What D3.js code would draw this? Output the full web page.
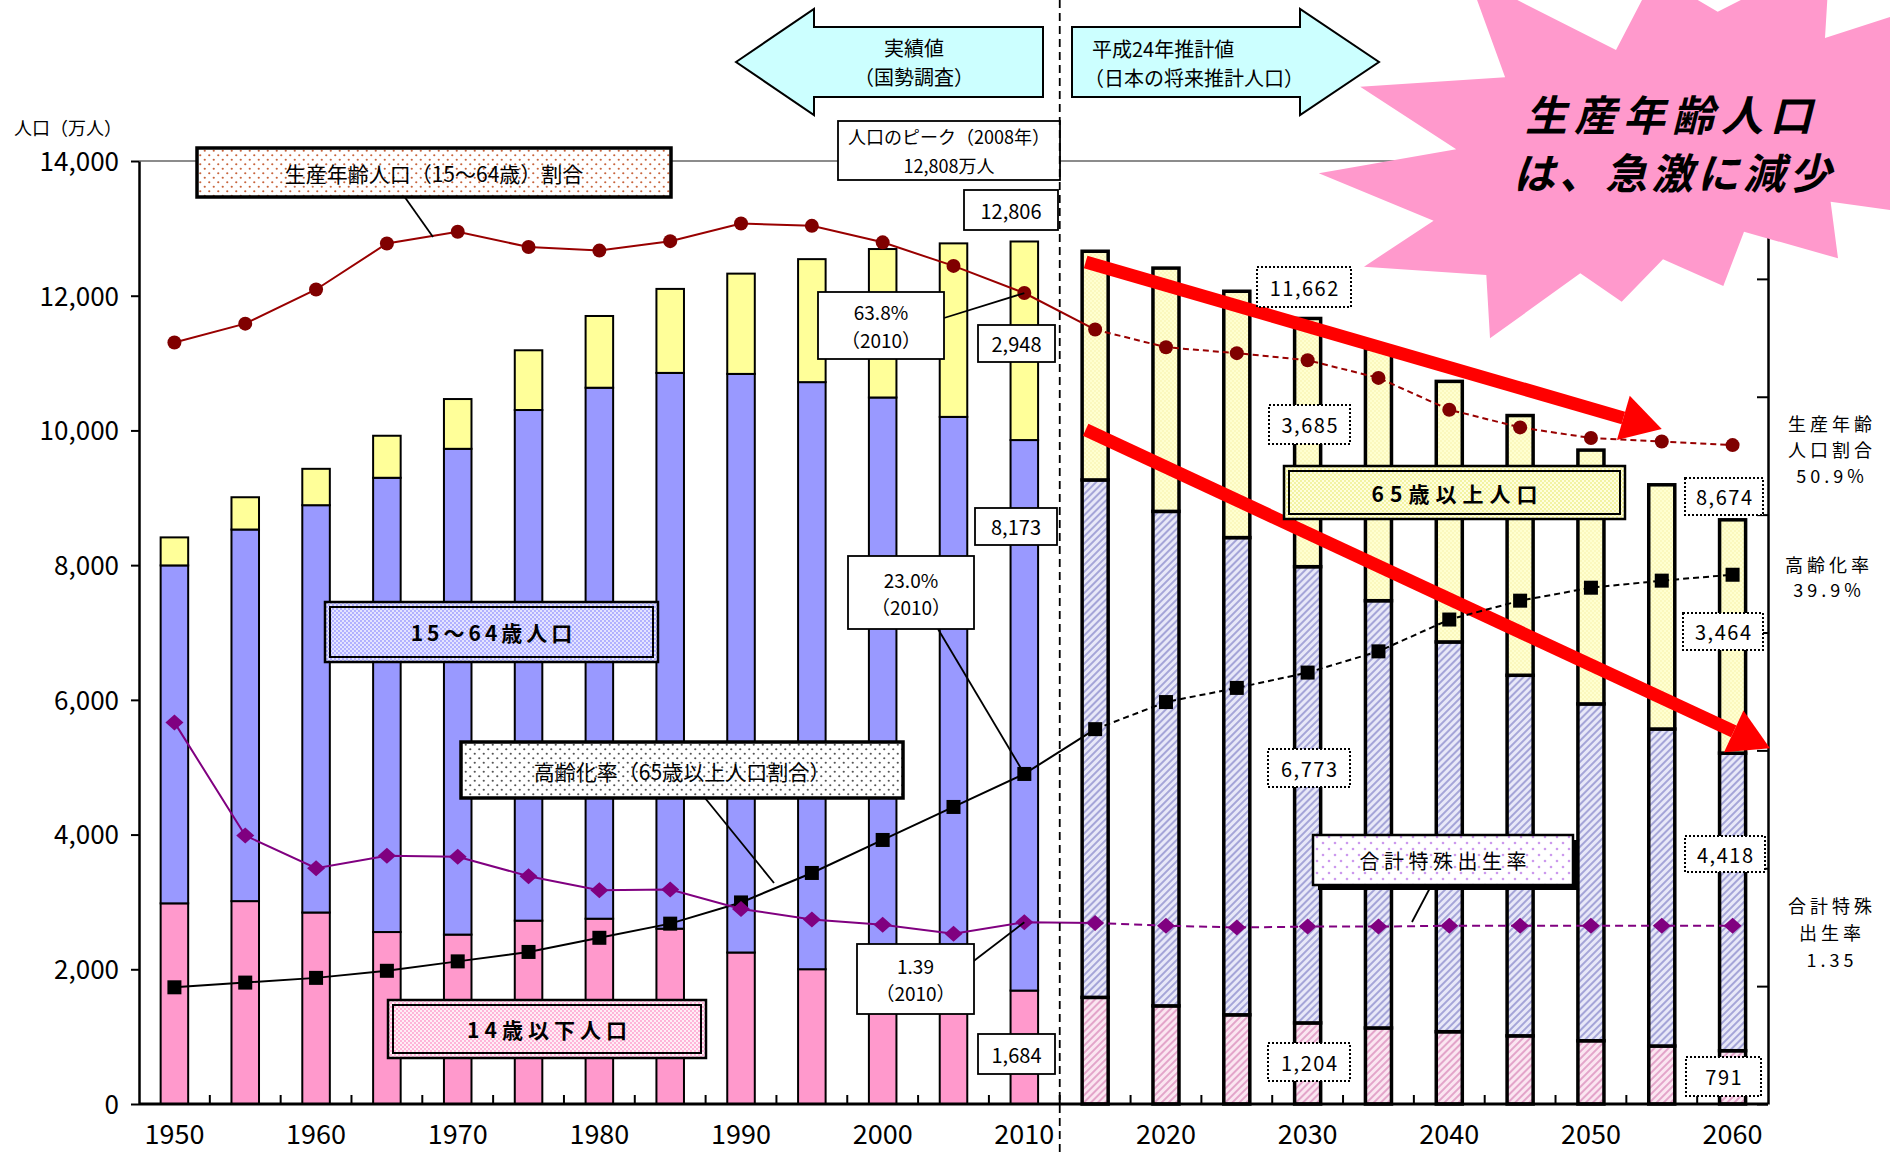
<!DOCTYPE html>
<html><head><meta charset="utf-8">
<script src="https://cdn.jsdelivr.net/npm/d3@7"></script>
<style>
body{margin:0;background:#fff;}
svg{display:block;font-family:"Noto Sans CJK JP","Noto Sans",sans-serif;}
</style></head><body>
<svg id="c" width="1890" height="1154"></svg>
<script>
// ---------------- data ----------------
const years = [1950,1955,1960,1965,1970,1975,1980,1985,1990,1995,2000,2005,2010,2015,2020,2025,2030,2035,2040,2045,2050,2055,2060];
const pop0_14  = [2979,3012,2843,2553,2515,2722,2751,2603,2249,2001,1851,1759,1684,1583,1457,1324,1204,1129,1073,1012,939,861,791];
const pop15_64 = [5017,5517,6047,6744,7212,7581,7883,8251,8590,8716,8638,8442,8173,7682,7341,7085,6773,6343,5787,5353,5001,4706,4418];
const pop65    = [416,479,540,624,739,887,1065,1247,1489,1826,2204,2576,2948,3395,3612,3657,3685,3741,3868,3856,3768,3626,3464];
const workingShare = [59.6,61.2,64.1,68.0,69.0,67.7,67.4,68.2,69.7,69.5,68.1,66.1,63.8,60.7,59.2,58.7,58.1,56.6,53.9,52.4,51.5,51.2,50.9];
const agingRate    = [4.9,5.3,5.7,6.3,7.1,7.9,9.1,10.3,12.1,14.6,17.4,20.2,23.0,26.8,29.1,30.3,31.6,33.4,36.1,37.7,38.8,39.4,39.9];
const fertility    = [3.65,2.37,2.00,2.14,2.13,1.91,1.75,1.76,1.54,1.42,1.36,1.26,1.39,1.38,1.35,1.33,1.34,1.34,1.35,1.35,1.35,1.35,1.35];
const yTickValues = [0,2000,4000,6000,8000,10000,12000,14000];
const xLabelYears = [1950,1960,1970,1980,1990,2000,2010,2020,2030,2040,2050,2060];
const rightTickValues = [-5,5,15,25,35,45,55,65,75];
const lastCensusYear = 2010;
const solidUntil = 2015;

// ---------------- layout ----------------
const svg = d3.select("#c");
const L = 139, R = 1768, T = 161, B = 1104;

const x = d3.scaleBand().domain(years).range([L, R]).paddingInner(0.59).paddingOuter(0.295);
const y = d3.scaleLinear().domain([0, 14000]).range([B, T]);
const pct = d3.scaleLinear().domain([-5, 75]).range([B, T]);
const tfrS = d3.scaleLinear().domain([-2/3, 10]).range([B, T]);
const cx = d => x(d) + x.bandwidth() / 2;

// ---------------- patterns ----------------
const defs = svg.append("defs");
function hatch(id, bg, fg) {
  const p = defs.append("pattern").attr("id", id).attr("patternUnits", "userSpaceOnUse")
    .attr("width", 5).attr("height", 5).attr("patternTransform", "rotate(45)");
  p.append("rect").attr("width", 5).attr("height", 5).attr("fill", bg);
  p.append("rect").attr("width", 2).attr("height", 5).attr("fill", fg);
}
function dots(id, bg, fg, s, r, stagger) {
  const p = defs.append("pattern").attr("id", id).attr("patternUnits", "userSpaceOnUse")
    .attr("width", s).attr("height", s);
  p.append("rect").attr("width", s).attr("height", s).attr("fill", bg);
  p.append("circle").attr("cx", s / 4).attr("cy", s / 4).attr("r", r).attr("fill", fg);
  if (stagger) p.append("circle").attr("cx", 3 * s / 4).attr("cy", 3 * s / 4).attr("r", r).attr("fill", fg);
}
hatch("hPink", "#fbe6f1", "#e3a5ca");
hatch("hBlue", "#e8e8f8", "#a5a5d8");
dots("dYelF", "#ffffd0", "#f6f0a8", 4, 0.8, true);
dots("dBrown", "#ffffff", "#c8643c", 9, 1.1, true);
dots("dBlack", "#ffffff", "#555555", 9, 1.1, true);
dots("dPurple", "#ffffff", "#cc99ee", 12, 1.3, true);
dots("dLav", "#e4e4ff", "#9999ff", 4, 0.9, true);
dots("dYel", "#ffffdd", "#eeee88", 4, 0.9, true);
dots("dPink", "#ffeef6", "#ff99cc", 4, 0.9, true);

// ---------------- axes ----------------
svg.append("line").attr("x1", L).attr("x2", R).attr("y1", y(14000)).attr("y2", y(14000))
  .attr("stroke", "#8c8c8c").attr("stroke-width", 2);

const gL = svg.append("g").attr("transform", `translate(${L},0)`)
  .call(d3.axisLeft(y).tickValues(yTickValues).tickSize(8).tickSizeOuter(0).tickFormat(d3.format(",")));
gL.select(".domain").attr("stroke-width", 2.5);
gL.selectAll(".tick line").attr("stroke-width", 2);
gL.selectAll(".tick text").attr("font-size", 26).attr("x", -20).attr("fill", "#000")
  .attr("font-family", "'Noto Sans CJK JP',sans-serif").attr("dy", "0.36em");

const gR = svg.append("g").attr("transform", `translate(${R},0)`)
  .call(d3.axisLeft(pct).tickValues(rightTickValues).tickSize(11).tickSizeOuter(0).tickFormat(""));
gR.select(".domain").attr("stroke-width", 2.5);
gR.selectAll(".tick line").attr("stroke-width", 2);

const gX = svg.append("g").attr("transform", `translate(0,${B})`)
  .call(d3.axisBottom(x).tickValues(xLabelYears).tickSize(0).tickSizeOuter(0).tickPadding(37));
gX.select(".domain").remove();
gX.selectAll(".tick text").attr("font-size", 27).attr("fill", "#000").attr("dy", "0.1em")
  .attr("font-family", "'Noto Sans CJK JP',sans-serif");

// boundary minor ticks
const gapHalf = (x.step() - x.bandwidth()) / 2;
svg.append("g").selectAll("line").data(years.slice(1)).join("line")
  .attr("x1", d => x(d) - gapHalf).attr("x2", d => x(d) - gapHalf)
  .attr("y1", B).attr("y2", B - 9).attr("stroke", "#000").attr("stroke-width", 2);

svg.append("text").attr("x", 14).attr("y", 127).attr("dominant-baseline", "central")
  .attr("font-size", 18).text("人口（万人）");

// ---------------- bars ----------------
const stackRows = years.map((yr, i) => {
  const a = pop0_14[i], b = pop15_64[i], c = pop65[i];
  return [
    { yr, lo: 0, hi: a, k: 0 },
    { yr, lo: a, hi: a + b, k: 1 },
    { yr, lo: a + b, hi: a + b + c, k: 2 }
  ];
}).flat();
const pastFill = ["#ff99cc", "#9999ff", "#ffff99"];
const futFill = ["url(#hPink)", "url(#hBlue)", "url(#dYelF)"];
const bw = x.bandwidth();
svg.append("g").selectAll("rect").data(stackRows).join("rect")
  .attr("x", d => d.yr > lastCensusYear ? x(d.yr) + 1.5 : x(d.yr) + 0.75)
  .attr("width", d => d.yr > lastCensusYear ? bw - 3 : bw - 1.5)
  .attr("y", d => y(d.hi))
  .attr("height", d => y(d.lo) - y(d.hi))
  .attr("fill", d => d.yr > lastCensusYear ? futFill[d.k] : pastFill[d.k])
  .attr("stroke", "#000")
  .attr("stroke-width", d => d.yr > lastCensusYear ? 3.5 : 2);

// bottom axis line
svg.append("line").attr("x1", L).attr("x2", R).attr("y1", B).attr("y2", B).attr("stroke", "#000").attr("stroke-width", 3);

// ---------------- red arrows ----------------
function redArrow(x0, y0, x1, y1) {
  const ang = Math.atan2(y1 - y0, x1 - x0);
  const hl = 40, hw = 23;
  const bx = x1 - hl * Math.cos(ang), by = y1 - hl * Math.sin(ang);
  svg.append("line").attr("x1", x0).attr("y1", y0).attr("x2", bx).attr("y2", by)
    .attr("stroke", "#ff0000").attr("stroke-width", 13);
  const px = -Math.sin(ang), py = Math.cos(ang);
  svg.append("polygon").attr("points", [[x1, y1], [bx + px * hw, by + py * hw], [bx - px * hw, by - py * hw]].map(p => p.join(",")).join(" "))
    .attr("fill", "#ff0000");
}
redArrow(x(2015) + 5, y(12500), cx(2055), y(10020));
redArrow(x(2015) + 5, y(10010), R + 2, y(5280));

// ---------------- lines ----------------
function series(vals, scale, color, dash, marker) {
  const pts = years.map((yr, i) => ({ yr, px: cx(yr), py: scale(vals[i]) }));
  const line = d3.line().x(d => d.px).y(d => d.py);
  svg.append("path").attr("d", line(pts.filter(d => d.yr <= solidUntil)))
    .attr("fill", "none").attr("stroke", color).attr("stroke-width", 2);
  svg.append("path").attr("d", line(pts.filter(d => d.yr >= solidUntil)))
    .attr("fill", "none").attr("stroke", color).attr("stroke-width", 2).attr("stroke-dasharray", dash);
  const g = svg.append("g");
  pts.forEach(d => marker(g, d.px, d.py));
}
series(workingShare, pct, "#990000", "6,4", (g, px, py) =>
  g.append("circle").attr("cx", px).attr("cy", py).attr("r", 7).attr("fill", "#800000"));
series(agingRate, pct, "#000000", "6,4", (g, px, py) =>
  g.append("rect").attr("x", px - 7).attr("y", py - 7).attr("width", 14).attr("height", 14).attr("fill", "#000"));
series(fertility, tfrS, "#800080", "8,5", (g, px, py) =>
  g.append("path").attr("d", `M${px},${py - 8}L${px + 9},${py}L${px},${py + 8}L${px - 9},${py}Z`).attr("fill", "#800080"));

// ---------------- annotations ----------------
const ann = svg.append("g");
function lines(g, cxp, cyp, arr, o) {
  const lh = o.lh || o.size * 1.35;
  const y0 = cyp - (arr.length - 1) * lh / 2;
  arr.forEach((t, i) => g.append("text").attr("x", cxp + (o.ls || 0) / 2).attr("y", y0 + i * lh)
    .attr("text-anchor", o.anchor || "middle").attr("dominant-baseline", "central")
    .attr("font-size", o.size).attr("font-weight", o.weight || "normal")
    .attr("font-style", o.style || "normal")
    .attr("letter-spacing", o.ls || 0).attr("fill", o.fill || "#000").text(t));
}
function callout(x0, y0, x1, y1, arr, o) {
  ann.append("rect").attr("x", x0).attr("y", y0).attr("width", x1 - x0).attr("height", y1 - y0)
    .attr("fill", "#fff").attr("stroke", "#000").attr("stroke-width", o.sw || 1.8)
    .attr("stroke-dasharray", o.dash || null);
  lines(ann, (x0 + x1) / 2, (y0 + y1) / 2, arr, o);
}
function leader(x0, y0, x1, y1) {
  ann.append("line").attr("x1", x0).attr("y1", y0).attr("x2", x1).attr("y2", y1)
    .attr("stroke", "#000").attr("stroke-width", 1.8);
}
function doubleBox(x0, y0, x1, y1, fill, text, o) {
  ann.append("rect").attr("x", x0).attr("y", y0).attr("width", x1 - x0).attr("height", y1 - y0)
    .attr("fill", fill).attr("stroke", "#000").attr("stroke-width", 2.5);
  ann.append("rect").attr("x", x0 + 5).attr("y", y0 + 5).attr("width", x1 - x0 - 10).attr("height", y1 - y0 - 10)
    .attr("fill", "none").attr("stroke", "#000").attr("stroke-width", 2);
  lines(ann, (x0 + x1) / 2, (y0 + y1) / 2, [text], o);
}

// leaders first (under boxes)
leader(404, 196, 433, 237);
leader(944, 318, cx(2010), pct(63.8));
leader(938, 629, cx(2010), pct(23.0));
leader(705, 798, 774, 883);
leader(958, 973, cx(2010), tfrS(1.39));
leader(1431, 886, 1412, 922);

// legend boxes
ann.append("rect").attr("x", 197).attr("y", 148).attr("width", 474).attr("height", 49)
  .attr("fill", "url(#dBrown)").attr("stroke", "#000").attr("stroke-width", 3.5);
lines(ann, 434, 173, ["生産年齢人口（15～64歳）割合"], { size: 21 });

ann.append("rect").attr("x", 461).attr("y", 742).attr("width", 442).attr("height", 56)
  .attr("fill", "url(#dBlack)").attr("stroke", "#000").attr("stroke-width", 3.5);
lines(ann, 682, 771, ["高齢化率（65歳以上人口割合）"], { size: 21 });

doubleBox(325, 602, 658, 662, "url(#dLav)", "15～64歳人口", { size: 21, weight: "bold", ls: 4 });
doubleBox(388, 1000, 706, 1058, "url(#dPink)", "14歳以下人口", { size: 21, weight: "bold", ls: 5 });
doubleBox(1284, 466, 1625, 519, "url(#dYel)", "65歳以上人口", { size: 21, weight: "bold", ls: 6 });

ann.append("rect").attr("x", 1318).attr("y", 840).attr("width", 260).attr("height", 50).attr("fill", "#000");
ann.append("rect").attr("x", 1313).attr("y", 835).attr("width", 260).attr("height", 50)
  .attr("fill", "url(#dPurple)").attr("stroke", "#000").attr("stroke-width", 2.5);
lines(ann, 1443, 860, ["合計特殊出生率"], { size: 20, ls: 4.5 });

// solid callouts (census)
callout(838, 121, 1060, 180, ["人口のピーク（2008年）", "12,808万人"], { size: 18, lh: 29 });
callout(964, 190, 1058, 230, ["12,806"], { size: 20 });
callout(818, 292, 944, 359, ["63.8%", "（2010）"], { size: 19, lh: 28 });
callout(978, 325, 1055, 362, ["2,948"], { size: 20 });
callout(975, 508, 1057, 545, ["8,173"], { size: 20 });
callout(848, 556, 974, 629, ["23.0%", "（2010）"], { size: 19, lh: 27 });
callout(857, 944, 974, 1014, ["1.39", "（2010）"], { size: 19, lh: 27 });
callout(978, 1034, 1055, 1074, ["1,684"], { size: 20 });

// dotted callouts (projection)
const dot = { size: 20, dash: "2,2", sw: 2, ls: 1.5 };
callout(1257, 267, 1351, 307, ["11,662"], dot);
callout(1269, 405, 1350, 444, ["3,685"], dot);
callout(1268, 749, 1350, 787, ["6,773"], dot);
callout(1268, 1043, 1350, 1081, ["1,204"], dot);
callout(1685, 478, 1763, 515, ["8,674"], dot);
callout(1683, 613, 1763, 650, ["3,464"], dot);
callout(1685, 836, 1765, 872, ["4,418"], dot);
callout(1686, 1057, 1761, 1096, ["791"], dot);

// right side labels
lines(svg, 1830, 449, ["生産年齢", "人口割合", "50.9%"], { size: 18, ls: 4, lh: 26 });
lines(svg, 1827, 576, ["高齢化率", "39.9%"], { size: 18, ls: 4, lh: 25 });
lines(svg, 1830, 932, ["合計特殊", "出生率", "1.35"], { size: 18, ls: 4, lh: 27 });

// ---------------- top arrows ----------------
const bigArrows = svg.append("g");
bigArrows.append("polygon").attr("points", "736,62 814,9 814,27 1043,27 1043,97 814,97 814,115")
  .attr("fill", "#ccffff").attr("stroke", "#000").attr("stroke-width", 2);
bigArrows.append("polygon").attr("points", "1072,27 1300,27 1300,9 1379,62 1300,115 1300,97 1072,97")
  .attr("fill", "#ccffff").attr("stroke", "#000").attr("stroke-width", 2);
lines(bigArrows, 914, 62, ["実績値", "（国勢調査）"], { size: 20, lh: 29 });
bigArrows.append("text").attr("x", 1092).attr("y", 48).attr("dominant-baseline", "central").attr("font-size", 20).text("平成24年推計値");
bigArrows.append("text").attr("x", 1084).attr("y", 77).attr("dominant-baseline", "central").attr("font-size", 20).text("（日本の将来推計人口）");

// dashed divider between census and projection
const divX = x(2015) - gapHalf;
svg.append("line").attr("x1", divX).attr("x2", divX).attr("y1", 0).attr("y2", 1154)
  .attr("stroke", "#000").attr("stroke-width", 1.8).attr("stroke-dasharray", "8,5");

// ---------------- starburst ----------------
const burst = [[1468,-25],[1616,50],[1655,-25],[1717.7,11.7],[1830,-45],[1825,38],[1905,12],[1905,212],[1830.6,201.7],[1838,258.3],[1744,231.7],[1723.3,286],[1663,259.3],[1621.7,301.7],[1580.3,273.3],[1490,338.3],[1486.3,275],[1364,266.7],[1433.6,220.7],[1318.8,173.3],[1456.2,149.3],[1360.2,86.7],[1505.1,77.3]];
svg.append("polygon").attr("points", burst.map(p => p.join(",")).join(" ")).attr("fill", "#ff99cc");
svg.append("text").attr("x", 1672).attr("y", 131).attr("text-anchor", "middle").attr("font-size", 42)
  .attr("font-weight", "bold").attr("font-style", "italic").attr("letter-spacing", 7).text("生産年齢人口");
svg.append("text").attr("x", 1674).attr("y", 189).attr("text-anchor", "middle").attr("font-size", 42)
  .attr("font-weight", "bold").attr("font-style", "italic").attr("letter-spacing", 4).text("は、急激に減少");
</script>
</body></html>
